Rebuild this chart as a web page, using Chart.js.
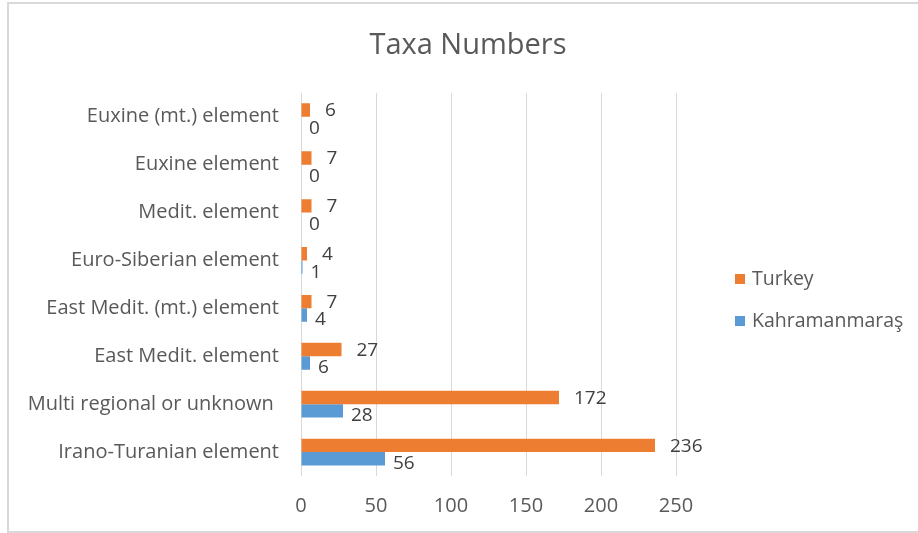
<!DOCTYPE html>
<html>
<head>
<meta charset="utf-8">
<script src="https://cdn.jsdelivr.net/npm/chart.js@4.4.1/dist/chart.umd.min.js"></script>
<style>
  html, body { margin: 0; padding: 0; background: #fff; overflow: hidden; width: 918px; height: 533px; }
  #frame { position: absolute; left: 7px; top: 2px; width: 1000px; height: 531px; border: 2px solid #d9d9d9; box-sizing: border-box; }
  #myChart { position: absolute; left: 0; top: 0; }
</style>
</head>
<body>
<div id="frame"></div>
<canvas id="myChart" width="918" height="533"></canvas>
<script>
const categories = [
  "Euxine (mt.) element",
  "Euxine element",
  "Medit. element",
  "Euro-Siberian element",
  "East Medit. (mt.) element",
  "East Medit. element",
  "Multi regional or unknown ",
  "Irano-Turanian element"
];
const turkeyValues = [6, 7, 7, 4, 7, 27, 172, 236];
const kahramanmarasValues = [0, 0, 0, 1, 4, 6, 28, 56];
const xTicks = [0, 50, 100, 150, 200, 250];

const FONT = "'Open Sans', 'Noto Sans', sans-serif";

// value labels next to the bar ends
const barLabels = {
  id: "barLabels",
  afterDatasetsDraw(chart) {
    const ctx = chart.ctx;
    ctx.save();
    ctx.font = "19px " + FONT;
    ctx.fillStyle = "#404040";
    ctx.textBaseline = "middle";
    ctx.textAlign = "left";
    chart.data.datasets.forEach((ds, i) => {
      const meta = chart.getDatasetMeta(i);
      const dx = i === 0 ? 15 : 8;
      const dy = i === 0 ? 1 : 5;
      meta.data.forEach((bar, j) => {
        ctx.fillText(String(ds.data[j]), bar.x + dx, bar.y + dy);
      });
    });
    ctx.restore();
  }
};

// legend on the right, drawn from the datasets
const sideLegend = {
  id: "sideLegend",
  afterDraw(chart) {
    const ctx = chart.ctx;
    ctx.save();
    ctx.font = "19.5px " + FONT;
    ctx.textBaseline = "middle";
    chart.data.datasets.forEach((ds, i) => {
      const y = 279 + i * 42;
      ctx.fillStyle = ds.backgroundColor;
      ctx.fillRect(735, y - 5, 10, 10);
      ctx.fillStyle = "#595959";
      ctx.fillText(ds.label, 752, y);
    });
    ctx.restore();
  }
};

new Chart(document.getElementById("myChart"), {
  type: "bar",
  data: {
    labels: categories,
    datasets: [
      { label: "Turkey", data: turkeyValues, backgroundColor: "#ED7D31" },
      { label: "Kahramanmaraş", data: kahramanmarasValues, backgroundColor: "#5B9BD5" }
    ]
  },
  options: {
    indexAxis: "y",
    responsive: false,
    animation: false,
    layout: { padding: { left: 18, right: 0, top: 0, bottom: 15 } },
    datasets: { bar: { categoryPercentage: 0.56, barPercentage: 1.0 } },
    plugins: {
      legend: { display: false },
      tooltip: { enabled: false },
      title: {
        display: true,
        text: "Taxa Numbers",
        color: "#595959",
        font: { family: FONT, size: 29, weight: "normal" },
        padding: { top: 28, bottom: 30 }
      }
    },
    scales: {
      x: {
        min: 0,
        max: 250,
        afterBuildTicks(scale) { scale.ticks = xTicks.map(v => ({ value: v })); },
        afterFit(scale) { scale.height = 42; },
        grid: { color: "#d9d9d9", drawTicks: false },
        border: { display: false },
        ticks: { color: "#595959", font: { family: FONT, size: 20 }, padding: 18 }
      },
      y: {
        afterFit(scale) { scale.width = 283; },
        grid: { display: false },
        border: { display: false },
        ticks: { color: "#595959", font: { family: FONT, size: 20 }, padding: 14 }
      },
      // empty axis that keeps room for the legend on the right
      yRight: {
        type: "category",
        position: "right",
        afterFit(scale) { scale.width = 242; },
        grid: { display: false },
        border: { display: false },
        ticks: { display: false }
      }
    }
  },
  plugins: [barLabels, sideLegend]
});
</script>
</body>
</html>
